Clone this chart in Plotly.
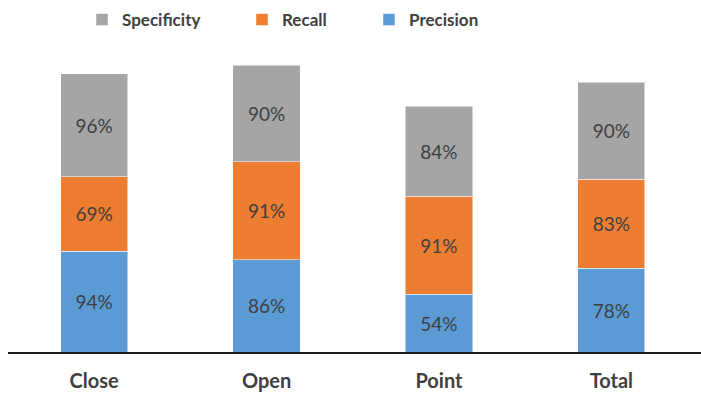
import plotly.graph_objects as go

categories = ["Close", "Open", "Point", "Total"]
precision = [94, 86, 54, 78]
recall = [69, 91, 91, 83]
specificity = [96, 90, 84, 90]

series = [
    ("Precision", precision, "#5B9BD5", "legend3"),
    ("Recall", recall, "#ED7D31", "legend2"),
    ("Specificity", specificity, "#A5A5A5", "legend"),
]

label_font = dict(family="Lato, Open Sans, sans-serif", size=19, color="#404040")
legend_font = dict(family="Lato, Open Sans, sans-serif", size=17, color="#404040", weight="bold")

fig = go.Figure()
for name, vals, color, leg in series:
    fig.add_trace(go.Bar(
        name=name,
        x=categories,
        y=vals,
        legend=leg,
        showlegend=True,
        marker=dict(color=color, line=dict(color="rgba(255,255,255,0.5)", width=1)),
        text=[f"{v}%" for v in vals],
        textposition="inside",
        insidetextanchor="middle",
        textfont=label_font,
        constraintext="none",
    ))

# plot area: x from 8 to 701 px, y from 0 to 352 px (baseline)
plot_left, plot_w, plot_h = 8, 693, 352

# one legend box per series, placed along the top inside the plot area
legend_x = {"legend": 82, "legend2": 242, "legend3": 369}
legends = {}
for key, px in legend_x.items():
    legends[key] = dict(
        orientation="h",
        x=(px - plot_left) / plot_w,
        xref="paper",
        xanchor="left",
        y=1 - 2 / plot_h,
        yref="paper",
        yanchor="top",
        font=legend_font,
        bgcolor="rgba(0,0,0,0)",
    )

fig.update_layout(
    barmode="stack",
    bargap=0.61,
    width=701,
    height=394,
    showlegend=True,
    margin=dict(l=plot_left, r=0, t=0, b=394 - plot_h, autoexpand=False),
    paper_bgcolor="white",
    plot_bgcolor="white",
    xaxis=dict(
        showline=True,
        linecolor="#1a1a1a",
        linewidth=2,
        ticks="",
        ticklabelstandoff=10,
        tickfont=dict(family="Lato, Open Sans, sans-serif", size=20, color="#404040", weight="bold"),
        range=[-0.5, 3.52],
    ),
    yaxis=dict(
        range=[0, plot_h / 1.074],
        visible=False,
        showgrid=False,
        zeroline=False,
    ),
    **legends,
)

fig.write_html("out.html")
